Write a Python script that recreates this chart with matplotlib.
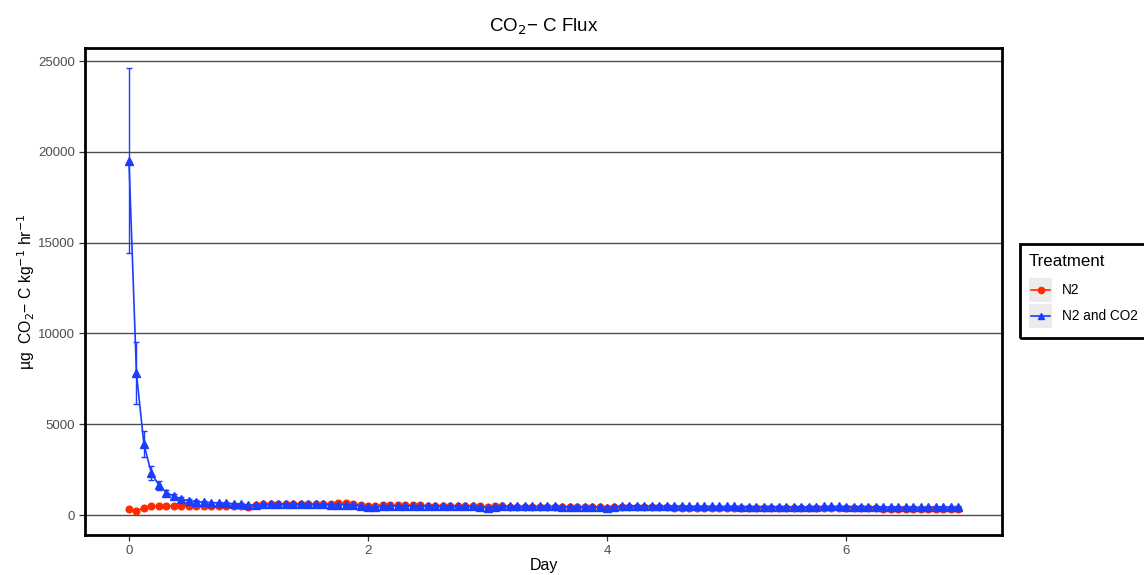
import matplotlib
matplotlib.use("Agg")
import matplotlib.pyplot as plt
from matplotlib.patches import Rectangle
from matplotlib.lines import Line2D

plt.rcParams['font.family'] = ['Liberation Sans', 'DejaVu Sans']

# Sampling every 1.5 h (0.0625 day), 112 points
day = [i * 0.0625 for i in range(112)]

n2_co2 = [19500, 7800, 3900, 2300, 1650, 1230, 1040, 880, 780, 730,
          700, 680, 660, 640, 620, 600, 540, 560, 580, 590,
          600, 600, 590, 590, 590, 580, 580, 570, 570, 560,
          540, 520, 420, 430, 480, 500, 500, 500, 495, 490,
          490, 485, 480, 480, 475, 470, 470, 460, 400, 460,
          480, 480, 480, 475, 475, 470, 470, 470, 465, 460,
          460, 455, 450, 440, 380, 460, 490, 500, 500, 495,
          495, 490, 490, 485, 485, 480, 480, 480, 475, 475,
          470, 470, 465, 465, 460, 460, 460, 455, 455, 450,
          450, 450, 460, 470, 475, 470, 465, 460, 455, 450,
          445, 440, 440, 435, 430, 430, 425, 430, 440, 440,
          435, 430]
n2_co2_se = [5100, 1700, 700, 380, 250, 150, 110, 90, 80, 70,
             60, 60, 55, 55, 50, 50, 45, 45, 45, 45,
             45, 45, 45, 45, 45, 45, 45, 45, 45, 45,
             45, 45, 40, 40, 40, 40, 40, 40, 40, 40,
             40, 40, 40, 40, 40, 40, 40, 40, 40, 40,
             40, 40, 40, 40, 40, 40, 40, 40, 40, 40,
             40, 40, 40, 40, 40, 40, 40, 40, 40, 40,
             40, 40, 40, 40, 40, 40, 40, 40, 40, 40,
             40, 40, 40, 40, 40, 40, 40, 40, 40, 40,
             40, 40, 40, 40, 40, 40, 40, 40, 40, 40,
             40, 40, 40, 40, 40, 40, 40, 40, 40, 40,
             40, 40]

n2 = [310, 220, 400, 470, 490, 500, 510, 510, 510, 510,
      510, 510, 505, 505, 500, 500, 460, 560, 580, 590,
      600, 600, 600, 600, 600, 600, 610, 620, 640, 650,
      620, 560, 490, 520, 540, 540, 535, 530, 530, 525,
      520, 520, 515, 510, 510, 505, 500, 490, 420, 470,
      470, 465, 460, 460, 455, 450, 450, 445, 440, 440,
      435, 430, 430, 420, 370, 430, 430, 425, 425, 420,
      420, 415, 415, 410, 410, 405, 405, 400, 400, 400,
      395, 390, 390, 385, 385, 380, 380, 380, 375, 375,
      370, 370, 370, 380, 390, 385, 380, 375, 370, 365,
      360, 355, 350, 350, 345, 345, 340, 345, 350, 350,
      345, 340]
n2_se = [40] * 112

red = '#FF2A00'
blue = '#1A3DFF'

W, H = 1144, 575
fig = plt.figure(figsize=(W / 100, H / 100), dpi=100)
ax = fig.add_axes([85 / W, 1 - 535 / H, (1002 - 85) / W, (535 - 48) / H])

ax.errorbar(day, n2, yerr=n2_se, color=red, marker='o', markersize=4.8,
            linewidth=1.2, elinewidth=1.0, capsize=2.5, zorder=3)
ax.errorbar(day, n2_co2, yerr=n2_co2_se, color=blue, marker='^', markersize=5.2,
            linewidth=1.2, elinewidth=1.0, capsize=2.5, zorder=4)

ax.set_xlim(-0.368, 7.305)
ax.set_ylim(-1101, 25716)
ax.set_xticks([0, 2, 4, 6])
ax.set_yticks([0, 5000, 10000, 15000, 20000, 25000])
ax.yaxis.grid(True, color='#4D4D4D', linewidth=1.0)
ax.xaxis.grid(False)
ax.set_axisbelow(True)
for s in ax.spines.values():
    s.set_linewidth(2)
    s.set_color('black')
ax.tick_params(axis='both', colors='#333333', labelcolor='#4D4D4D',
               labelsize=9.5, length=4, width=0.9, pad=3)

ax.set_xlabel('Day', fontsize=11.5, labelpad=1)
ax.set_ylabel('µg  CO$_2$− C kg$^{-1}$ hr$^{-1}$', fontsize=11.3, labelpad=1)
ax.set_title('CO$_2$− C Flux', fontsize=13.5, pad=12)

# Legend (ggplot style)
def fx(px):
    return px / W

def fy(py):
    return 1 - py / H

fig.patches.append(Rectangle((fx(1020), fy(338)), fx(1150) - fx(1020), fy(244) - fy(338),
                             transform=fig.transFigure, fill=False,
                             edgecolor='black', linewidth=2, clip_on=False))
fig.text(fx(1029), fy(261), 'Treatment', fontsize=12.2, va='center', ha='left')
for (yc, col, mk, lab) in [(290, red, 'o', 'N2'), (316, blue, '^', 'N2 and CO2')]:
    fig.patches.append(Rectangle((fx(1029), fy(yc + 12)), fx(1052) - fx(1029), fy(yc - 12) - fy(yc + 12),
                                 transform=fig.transFigure, facecolor='#EBEBEB',
                                 edgecolor='none'))
    fig.lines.append(Line2D([fx(1031), fx(1050)], [fy(yc), fy(yc)], transform=fig.transFigure,
                            color=col, linewidth=1.2))
    fig.lines.append(Line2D([fx(1040.5)], [fy(yc)], transform=fig.transFigure,
                            color=col, marker=mk, markersize=4.5, linestyle='none'))
    fig.text(fx(1062), fy(yc), lab, fontsize=9.8, va='center', ha='left')

fig.savefig('out.png', dpi=100)
